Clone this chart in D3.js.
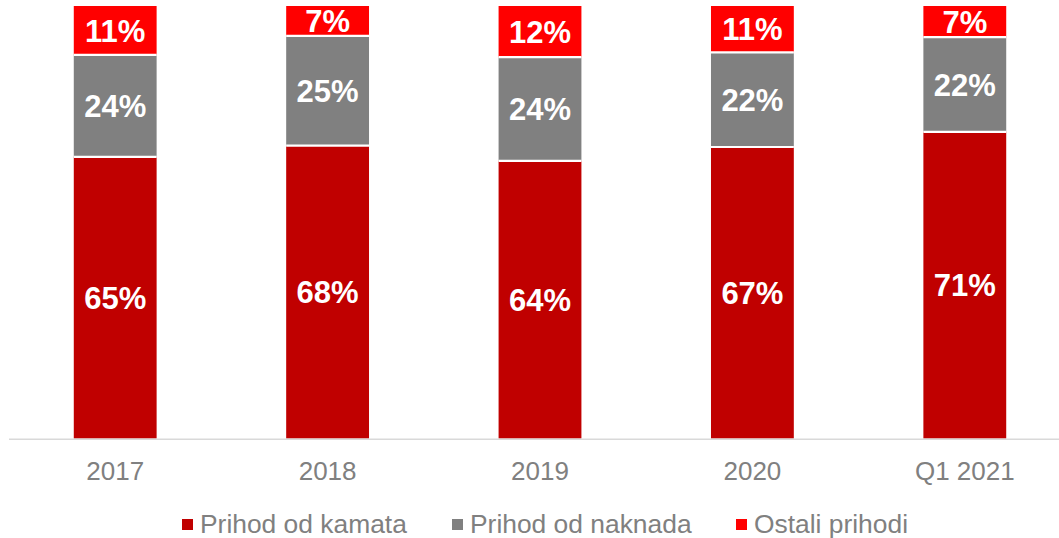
<!DOCTYPE html>
<html>
<head>
<meta charset="utf-8">
<script src="https://cdn.jsdelivr.net/npm/d3@7"></script>
<style>
  html, body { margin: 0; padding: 0; background: #fff; }
  svg { display: block; font-family: "Liberation Sans", Arial, sans-serif; }
</style>
</head>
<body>
<svg id="chart" width="1059" height="538"></svg>
<script>
const categories = ["2017", "2018", "2019", "2020", "Q1 2021"];
const seriesNames = ["Prihod od kamata", "Prihod od naknada", "Ostali prihodi"];
const kamata  = [65.1, 67.7, 64.2, 67.4, 70.9];
const naknada = [23.6, 25.4, 24.0, 21.9, 21.9];
const ostali  = [11.3, 6.9, 11.8, 10.7, 7.2];
const colors = ["#C00000", "#808080", "#FF0000"];

const rows = categories.map((c, i) => ({ cat: c, s0: kamata[i], s1: naknada[i], s2: ostali[i] }));
const keys = ["s0", "s1", "s2"];
const stacked = d3.stack().keys(keys)(rows);

const svg = d3.select("#chart");
const x = d3.scaleBand().domain(categories).range([9, 1071]).paddingInner(0.61).paddingOuter(0.305);
const y = d3.scaleLinear().domain([0, 100]).range([438.5, 6]);

// bars
const layers = svg.append("g").selectAll("g").data(stacked).join("g")
  .attr("fill", (d, i) => colors[i]);
layers.selectAll("rect").data(d => d).join("rect")
  .attr("x", d => x(d.data.cat))
  .attr("width", x.bandwidth())
  .attr("y", d => y(d[1]))
  .attr("height", d => y(d[0]) - y(d[1]));

// white separators
stacked.slice(0, 2).forEach(layer => {
  svg.append("g").selectAll("line").data(layer).join("line")
    .attr("x1", d => x(d.data.cat))
    .attr("x2", d => x(d.data.cat) + x.bandwidth())
    .attr("y1", d => y(d[1]))
    .attr("y2", d => y(d[1]))
    .attr("stroke", "#fff")
    .attr("stroke-width", 2.2);
});

// labels
stacked.forEach(layer => {
  svg.append("g").selectAll("text").data(layer).join("text")
    .attr("x", d => x(d.data.cat) + x.bandwidth() / 2)
    .attr("y", d => (y(d[0]) + y(d[1])) / 2)
    .attr("dy", "0.36em")
    .attr("text-anchor", "middle")
    .attr("fill", "#fff")
    .attr("font-weight", "bold")
    .attr("font-size", "31px")
    .text(d => Math.round(d[1] - d[0]) + "%");
});

// x axis
const axis = svg.append("g").attr("transform", "translate(0,439.3)")
  .call(d3.axisBottom(x).tickSize(0).tickPadding(0));
axis.select(".domain").remove();
axis.append("line").attr("x1", 9).attr("x2", 1059).attr("y1", 0).attr("y2", 0)
  .attr("stroke", "#d9d9d9").attr("stroke-width", 1.5);
axis.selectAll(".tick text")
  .attr("y", 41).attr("dy", null)
  .attr("fill", "#808080")
  .attr("font-size", "26px")
  .attr("font-family", "'Liberation Sans', Arial, sans-serif");

// legend
const legendX = [182, 452, 736];
const legend = svg.append("g");
seriesNames.forEach((name, i) => {
  legend.append("rect").attr("x", legendX[i]).attr("y", 519).attr("width", 11).attr("height", 11).attr("fill", colors[i]);
  legend.append("text").attr("x", legendX[i] + 18).attr("y", 532.7)
    .attr("fill", "#808080").attr("font-size", "26.4px").text(name);
});
</script>
</body>
</html>
